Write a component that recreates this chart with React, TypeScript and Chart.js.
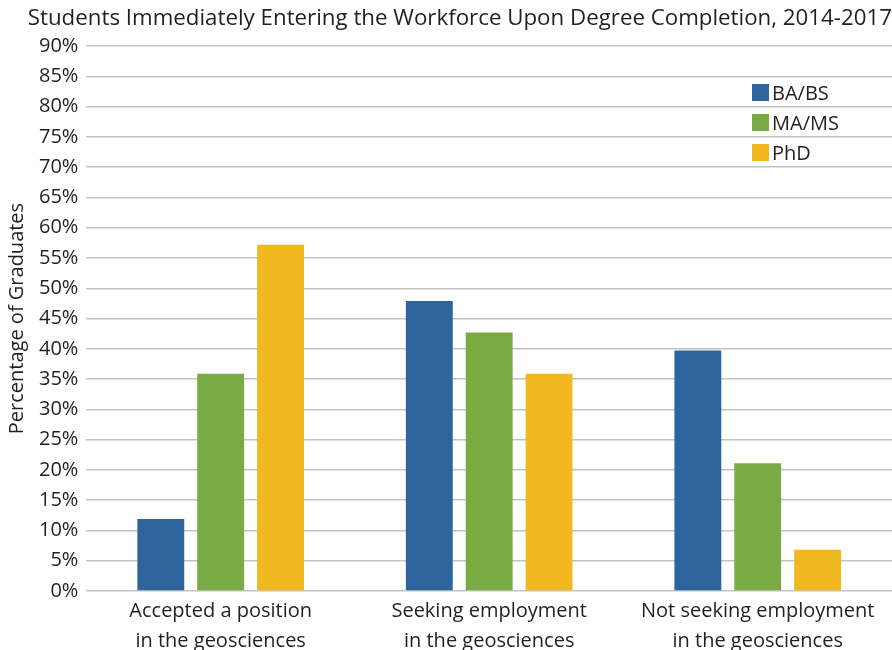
import React, { useEffect, useRef } from "react";
import { Chart, registerables } from "chart.js";

Chart.register(...registerables);

const titleText = "Students Immediately Entering the Workforce Upon Degree Completion, 2014-2017";
const yAxisTitle = "Percentage of Graduates";
const categories = [
  ["Accepted a position", "in the geosciences"],
  ["Seeking employment", "in the geosciences"],
  ["Not seeking employment", "in the geosciences"],
];
const seriesNames = ["BA/BS", "MA/MS", "PhD"];
const baValues = [11.9, 47.9, 39.7];
const maValues = [35.9, 42.7, 21.1];
const phdValues = [57.2, 35.9, 6.8];
const seriesColors = ["#2e649d", "#79aa43", "#f1b81f"];
const yMin = 0;
const yMax = 90;
const yStep = 5;

const FONT = "'Open Sans', 'DejaVu Sans', sans-serif";
const TEXT = "#231f20";

export default function App() {
  const ref = useRef<HTMLCanvasElement | null>(null);
  useEffect(() => {
    const values = [baValues, maValues, phdValues];
    const chart = new Chart(ref.current!, {
      type: "bar",
      data: {
        labels: categories,
        datasets: seriesNames.map((name, i) => ({
          label: name,
          data: values[i],
          backgroundColor: seriesColors[i],
          borderWidth: 0,
          barPercentage: 0.783,
          categoryPercentage: 0.669,
        })),
      },
      options: {
        responsive: false,
        animation: false,
        layout: { padding: { left: 5, right: 0, top: 0, bottom: 0 } },
        plugins: {
          legend: { display: false },
          tooltip: { enabled: false },
          title: {
            display: true,
            text: titleText,
            color: TEXT,
            font: { family: FONT, size: 22.3, weight: "normal" },
            padding: { top: 5, bottom: 14.3 },
            align: "end",
          },
        },
        scales: {
          x: {
            grid: { display: false },
            border: { display: false },
            ticks: {
              color: TEXT,
              font: { family: FONT, size: 20, lineHeight: 1.5 },
              padding: -3,
              maxRotation: 0,
              autoSkip: false,
            },
          },
          y: {
            min: yMin,
            max: yMax,
            grid: { color: "#c3c3c6", lineWidth: 1.5, drawTicks: false },
            border: { display: false },
            ticks: {
              stepSize: yStep,
              color: TEXT,
              padding: 8,
              font: { family: FONT, size: 20 },
              callback: (v: any) => v + "%",
            },
            title: {
              display: true,
              text: yAxisTitle,
              color: TEXT,
              font: { family: FONT, size: 20 },
              padding: { top: 0, bottom: 2 },
            },
          },
        },
      },
    });
    return () => chart.destroy();
  }, []);

  return (
    <div style={{ position: "absolute", left: 0, top: 0, width: 892, height: 650, overflow: "hidden", background: "#fff" }}>
      <canvas ref={ref} width={892} height={653} style={{ display: "block" }} />
      <div style={{ position: "absolute", left: 752, top: 77, fontFamily: FONT, fontSize: 20, color: TEXT }}>
        {seriesNames.map((n, i) => (
          <div key={n} style={{ display: "flex", alignItems: "center", height: 30 }}>
            <span style={{ width: 17, height: 17, background: seriesColors[i], display: "inline-block", marginRight: 3 }} />
            <span>{n}</span>
          </div>
        ))}
      </div>
    </div>
  );
}
